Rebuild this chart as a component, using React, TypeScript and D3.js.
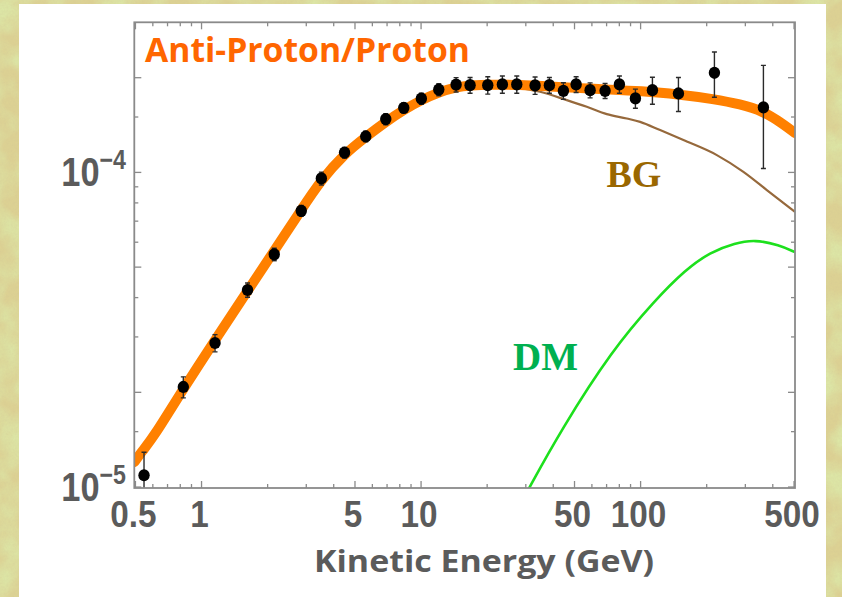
import React from "react";
import * as d3 from "d3";

const W = 842;
const H = 597;

// Measured antiproton-to-proton ratio: kinetic energy (GeV), ratio in units of 1e-4, ±error
const pointEnergy = [0.547, 0.826, 1.152, 1.62, 2.144, 2.846, 3.514, 4.482, 5.598, 6.906, 8.341, 10.03, 12.04, 14.44, 16.72, 20.13, 23.46, 27.29, 33.06, 38.42, 44.49, 50.85, 58.88, 68.9, 80.07, 94.7, 113.2, 148.7, 216.9, 362.6];
const pointRatio = [0.109, 0.208, 0.287, 0.423, 0.549, 0.755, 0.957, 1.156, 1.301, 1.477, 1.604, 1.716, 1.833, 1.901, 1.894, 1.894, 1.904, 1.904, 1.89, 1.894, 1.817, 1.904, 1.826, 1.817, 1.904, 1.719, 1.826, 1.782, 2.073, 1.609];
const pointError = [0.02, 0.016, 0.018, 0.022, 0.025, 0.03, 0.045, 0.045, 0.05, 0.06, 0.06, 0.07, 0.08, 0.1, 0.11, 0.12, 0.12, 0.12, 0.12, 0.11, 0.11, 0.11, 0.1, 0.1, 0.12, 0.12, 0.18, 0.22, 0.34, 0.58];

// Total prediction (background + dark matter)
const totalEnergy = [0.495, 0.536, 0.601, 0.824, 1.152, 1.628, 2.14, 2.84, 3.503, 4.459, 5.616, 6.926, 8.367, 10.0, 12.08, 14.44, 16.72, 20.63, 28.25, 38.71, 53.02, 72.61, 99.47, 148.2, 216.2, 284.0, 361.5, 445.9, 505];
const totalRatio = [0.1201, 0.1301, 0.1431, 0.2048, 0.2932, 0.4227, 0.5623, 0.7591, 0.9452, 1.143, 1.299, 1.45, 1.583, 1.697, 1.8, 1.867, 1.891, 1.904, 1.898, 1.874, 1.853, 1.833, 1.813, 1.774, 1.71, 1.648, 1.566, 1.424, 1.333];

// Secondary background
const bgEnergy = [0.495, 0.601, 0.824, 1.152, 1.628, 2.14, 2.84, 3.503, 4.459, 5.616, 6.926, 8.367, 10.0, 12.08, 14.44, 16.72, 20.63, 24.13, 29.25, 34.84, 46.12, 56.87, 70.15, 86.5, 99.5, 122.7, 156.7, 222.5, 293.9, 375.8, 505];
const bgRatio = [0.1201, 0.1431, 0.2048, 0.2932, 0.4227, 0.5623, 0.7591, 0.9452, 1.143, 1.299, 1.45, 1.583, 1.697, 1.8, 1.867, 1.891, 1.904, 1.891, 1.849, 1.804, 1.697, 1.616, 1.532, 1.484, 1.448, 1.363, 1.267, 1.135, 1.004, 0.879, 0.749];

// Dark matter contribution
const dmEnergy = [28.25, 31.05, 43.43, 74.17, 116.5, 159.5, 207.3, 269.5, 332.3, 427.6, 505];
const dmRatio = [0.0877, 0.0993, 0.1518, 0.2725, 0.3928, 0.4893, 0.558, 0.5962, 0.6116, 0.5875, 0.558];

const RATIO_UNIT = 1e-4;

const xTickLabels = ["0.5", "1", "5", "10", "50", "100", "500"];
const xMajorTicks = [0.5, 1, 5, 10, 50, 100, 500];
const xMinorTicks = [0.6, 0.7, 0.8, 0.9, 2, 3, 4, 6, 7, 8, 9, 20, 30, 40, 60, 70, 80, 90, 200, 300, 400];
const yMajorTicks = [1e-5, 2e-5, 5e-5, 1e-4, 2e-4];
const yMinorTicks = [1.5e-5, 3e-5, 4e-5, 6e-5, 7e-5, 8e-5, 9e-5, 1.5e-4];
const yTickLabels = [
  { value: 1e-4, exp: "\u22124" },
  { value: 1e-5, exp: "\u22125" },
];

const M = { left: 134.3, right: 795, top: 22.3, bottom: 488 };

export default function App() {
  const x = d3.scaleLog().domain([0.494, 505]).range([M.left, M.right]);
  const y = d3.scaleLog().domain([0.993e-5, 3.0e-4]).range([M.bottom, M.top]);

  const makeLine = (curve: d3.CurveFactory) =>
    d3
      .line<[number, number]>()
      .x((d) => x(d[0]))
      .y((d) => y(d[1] * RATIO_UNIT))
      .curve(curve);

  const smooth = makeLine(d3.curveBasis);
  const monotone = makeLine(d3.curveMonotoneX);

  const zip = (a: number[], b: number[]) => a.map((v, i) => [v, b[i]] as [number, number]);

  const frame = "#8a8a8a";
  const axisText = "#5b5b5b";

  const tickX = (v: number, len: number, key: string) => (
    <g key={key}>
      <line x1={x(v)} x2={x(v)} y1={M.bottom} y2={M.bottom - len} stroke={frame} strokeWidth={1.3} />
      <line x1={x(v)} x2={x(v)} y1={M.top} y2={M.top + len} stroke={frame} strokeWidth={1.3} />
    </g>
  );
  const tickY = (v: number, len: number, key: string) => (
    <g key={key}>
      <line x1={M.left} x2={M.left + len} y1={y(v)} y2={y(v)} stroke={frame} strokeWidth={1.3} />
      <line x1={M.right} x2={M.right - len} y1={y(v)} y2={y(v)} stroke={frame} strokeWidth={1.3} />
    </g>
  );

  return (
    <svg width={W} height={H} style={{ position: "absolute", left: 0, top: 0 }}>
      <defs>
        <filter id="greenNoise" x="0" y="0" width="100%" height="100%">
          <feTurbulence type="fractalNoise" baseFrequency="0.03" numOctaves="3" seed="4" />
          <feColorMatrix type="matrix" values="0 0 0 0 0.72  0 0 0 0 0.8  0 0 0 0 0.38  2.6 0 0 0 -0.9" />
        </filter>
        <filter id="grain" x="0" y="0" width="100%" height="100%">
          <feTurbulence type="fractalNoise" baseFrequency="0.45" numOctaves="2" seed="9" />
          <feColorMatrix type="matrix" values="0 0 0 0 0.6  0 0 0 0 0.52  0 0 0 0 0.3  0.6 0 0 0 -0.1" />
        </filter>
        <clipPath id="plotArea">
          <rect x={M.left} y={M.top} width={M.right - M.left} height={M.bottom - M.top} />
        </clipPath>
      </defs>

      {/* textured paper surround */}
      <rect x={0} y={0} width={W} height={H} fill="#ddd293" />
      <rect x={0} y={0} width={W} height={H} filter="url(#greenNoise)" />
      <rect x={0} y={0} width={W} height={H} filter="url(#grain)" opacity={0.5} />
      <rect x={19} y={4} width={807} height={H} fill="#ffffff" />

      {/* curves */}
      <g clipPath="url(#plotArea)">
        <path d={monotone(zip(bgEnergy, bgRatio)) || ""} fill="none" stroke="#96693c" strokeWidth={2.2} />
        <path d={smooth(zip(totalEnergy, totalRatio)) || ""} fill="none" stroke="#ff8000" strokeWidth={10} strokeLinecap="round" strokeLinejoin="round" />
        <path d={smooth(zip(dmEnergy, dmRatio)) || ""} fill="none" stroke="#1de01d" strokeWidth={2.6} />

        {/* data points with error bars */}
        {pointEnergy.map((e, i) => {
          const cx = x(e);
          const lo = y((pointRatio[i] - pointError[i]) * RATIO_UNIT);
          const hi = y((pointRatio[i] + pointError[i]) * RATIO_UNIT);
          return (
            <g key={i}>
              <line x1={cx} x2={cx} y1={lo} y2={hi} stroke="#2a2a2a" strokeWidth={1.4} />
              <line x1={cx - 2.5} x2={cx + 2.5} y1={hi} y2={hi} stroke="#2a2a2a" strokeWidth={1.4} />
              <line x1={cx - 2.5} x2={cx + 2.5} y1={lo} y2={lo} stroke="#2a2a2a" strokeWidth={1.4} />
              <ellipse cx={cx} cy={y(pointRatio[i] * RATIO_UNIT)} rx={5.7} ry={6.1} fill="#000" />
            </g>
          );
        })}
      </g>

      {/* frame and ticks */}
      <rect x={M.left} y={M.top} width={M.right - M.left} height={M.bottom - M.top} fill="none" stroke={frame} strokeWidth={1.8} />
      {xMajorTicks.map((v) => tickX(v, 7, `xM${v}`))}
      {xMinorTicks.map((v) => tickX(v, 4, `xm${v}`))}
      {yMajorTicks.map((v) => tickY(v, 7, `yM${v}`))}
      {yMinorTicks.map((v) => tickY(v, 4, `ym${v}`))}

      {/* x tick labels */}
      {xMajorTicks.map((v, i) => (
        <g key={`xl${v}`} transform={`translate(${x(v) - 2},527) scale(0.9,1)`}>
          <text textAnchor="middle" fontFamily="Liberation Sans, Arial, sans-serif" fontWeight="bold" fontSize={37} fill={axisText}>
            {xTickLabels[i]}
          </text>
        </g>
      ))}

      {/* y tick labels */}
      {yTickLabels.map((t) => (
        <g key={`yl${t.value}`} transform={`translate(126,${y(t.value) + 14}) scale(0.86,1)`}>
          <text textAnchor="end" fontFamily="Liberation Sans, Arial, sans-serif" fontWeight="bold" fill={axisText}>
            <tspan fontSize={40}>10</tspan>
            <tspan fontSize={27} dy={-17}>{t.exp}</tspan>
          </text>
        </g>
      ))}

      {/* axis title */}
      <text x={484} y={572} textAnchor="middle" fontFamily="Open Sans, sans-serif" fontWeight="bold" fontSize={31} fill={axisText} textLength={340} lengthAdjust="spacingAndGlyphs">
        Kinetic Energy (GeV)
      </text>

      {/* plot title and curve labels */}
      <text x={145} y={61.7} fontFamily="Open Sans, sans-serif" fontWeight="bold" fontSize={34} fill="#ff6600" textLength={325} lengthAdjust="spacingAndGlyphs">
        Anti-Proton/Proton
      </text>
      <text x={606.5} y={187.3} fontFamily="Liberation Serif, Times New Roman, serif" fontWeight="bold" fontSize={38} fill="#9a6700">
        BG
      </text>
      <text x={513} y={370} fontFamily="Liberation Serif, Times New Roman, serif" fontWeight="bold" fontSize={39} fill="#00b050">
        DM
      </text>
    </svg>
  );
}
